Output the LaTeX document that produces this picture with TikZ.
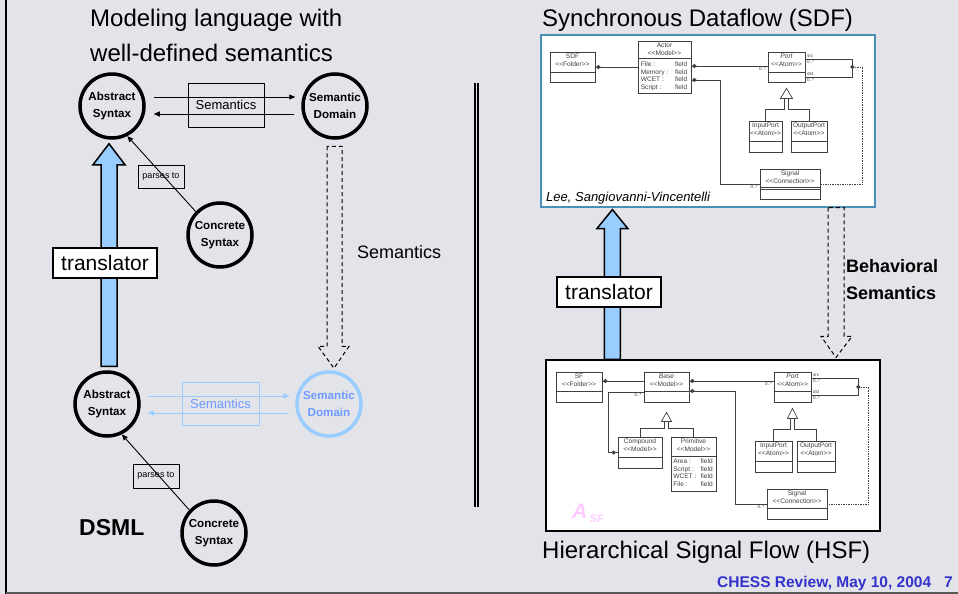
\documentclass[tikz,border=0pt]{standalone}
\usepackage{fontspec}
\setmainfont{Liberation Sans}
\usetikzlibrary{arrows.meta,calc,shapes.geometric}

\definecolor{bg}{RGB}{227,228,234}
\definecolor{lblue}{RGB}{153,204,255}
\definecolor{mblue}{RGB}{110,155,255}
\definecolor{framebl}{RGB}{74,144,180}
\definecolor{umlgray}{RGB}{64,64,64}
\definecolor{footblue}{RGB}{51,51,204}
\definecolor{asfpink}{RGB}{255,204,255}

\newcommand\fs[2]{\fontsize{#1}{#2}\selectfont}
\newcommand\st[1]{<{}<#1>{}>}

% class box: name, x, y, width, height, divider offset, header text
\newcommand\umlclass[7]{%
  \node[uml, minimum width=#4pt, minimum height=#5pt] (#1) at (#2,#3) {};
  \draw[umll] ([yshift=-#6pt]#1.north west) -- ([yshift=-#6pt]#1.north east);
  \node[umlt, anchor=north] (#1-h) at ([yshift=-2pt]#1.north) {#7};
}

\begin{document}
\begin{tikzpicture}[x=1pt,y=-1pt,
  txt/.style={inner sep=0pt},
  circ/.style={circle, draw, line width=3.5pt, minimum size=64pt, inner sep=0pt,
    align=center, font=\fs{11.6}{17}\bfseries},
  lblbox/.style={draw, line width=0.9pt, inner sep=0pt},
  conn/.style={-{Triangle[length=6pt,width=5pt]}, line width=0.9pt},
  bigarrow/.style={fill=lblue, draw=black, line width=1.5pt, line join=miter},
  hollow/.style={draw=black, line width=1pt, dash pattern=on 4pt off 3pt},
  trbox/.style={draw, fill=white, line width=1.2pt, minimum width=104pt,
    minimum height=30pt, inner sep=0pt, font=\fs{21}{24}},
  uml/.style={draw=umlgray, line width=0.8pt, fill=white, inner sep=0pt},
  umlt/.style={inner sep=0pt, text=umlgray, font=\fs{6.6}{7.7}, align=center},
  umll/.style={draw=umlgray, line width=0.7pt},
  dia/.style={diamond, fill=umlgray, inner sep=0pt, minimum size=4.5pt},
  mult/.style={inner sep=0pt, text=umlgray, font=\fs{4.6}{5}}
]
\useasboundingbox (0,0) rectangle (958,594);
\fill[bg] (0,0) rectangle (958,594);
\draw[line width=2pt] (6,0) -- (6,594);
\draw[line width=1.5pt, black!65] (6,592.8) -- (958,592.8);

% ---------- left half: modeling language ----------
\node[txt, anchor=base west, font=\fs{24}{28}] (h1a) at (90,27) {Modeling language with};
\node[txt, anchor=base west, font=\fs{24}{28}] (h1b) at (90,62) {well-defined semantics};

\node[circ] (abs1) at (112,106) {Abstract\\Syntax};
\node[circ] (sem1) at (335,106) {Semantic\\Domain};
\node[circ] (cs1) at (220,235) {Concrete\\Syntax};

\node[lblbox, minimum width=76pt, minimum height=44pt, font=\fs{13}{15}] (sb1) at (226,105) {Semantics};
\draw[conn, shorten <=8pt, shorten >=6pt] ([yshift=9pt]abs1.east) -- ([yshift=9pt]sem1.west);
\draw[conn, shorten <=7pt, shorten >=8pt] ([yshift=-8pt]sem1.west) -- ([yshift=-8pt]abs1.east);

\node[lblbox, minimum width=46pt, minimum height=23pt, font=\fs{9}{10}] (p1) at (161,176.5) {parses to};
\draw[conn] (cs1.136) -- (abs1.-63);

\node[txt, anchor=base west, font=\fs{18}{20}] (sl) at (357,258) {Semantics};

% lower DSML
\node[circ] (abs2) at (107,404) {Abstract\\Syntax};
\node[circ, draw=lblue, text=mblue] (sem2) at (329,404) {Semantic\\Domain};
\node[circ] (cs2) at (214,533) {Concrete\\Syntax};

\node[lblbox, draw=lblue, text=mblue, minimum width=77pt, minimum height=43pt, font=\fs{13}{15}] (sb2) at (220.5,403.5) {Semantics};
\draw[conn, draw=lblue, fill=lblue, shorten <=8pt, shorten >=6pt] ([yshift=8pt]abs2.east) -- ([yshift=8pt]sem2.west);
\draw[conn, draw=lblue, fill=lblue, shorten <=7pt, shorten >=7pt] ([yshift=-9pt]sem2.west) -- ([yshift=-9pt]abs2.east);

\node[lblbox, minimum width=46pt, minimum height=24pt, font=\fs{9}{10}] (p2) at (156,476) {parses to};
\draw[conn] (cs2.137) -- (abs2.-64);

\node[txt, anchor=base west, font=\fs{23}{26}\bfseries] (dsml) at (79,535) {DSML};

% translator arrow
\coordinate (tA1) at ([xshift=-3pt,yshift=-4pt]abs1.south);
\coordinate (tB1) at ([xshift=2pt,yshift=4pt]abs2.north);
\draw[bigarrow] ($(tB1)+(-8,0)$) -- ($(tA1)+(-8,21)$) -- ($(tA1)+(-16,21)$) -- (tA1)
  -- ($(tA1)+(16,21)$) -- ($(tA1)+(8,21)$) -- ($(tB1)+(8,0)$) -- cycle;
\node[trbox] (tr1) at (105,263) {translator};

% semantics (dashed hollow arrow)
\coordinate (dA) at ([xshift=-0.5pt,yshift=-6.5pt]sem1.south);
\coordinate (dB) at ([xshift=5pt,yshift=2pt]sem2.north);
\draw[hollow] ($(dA)+(-7.5,0)$) -- ($(dB)+(-7,-22)$) -- ($(dB)+(-16,-22)$) -- (dB)
  -- ($(dB)+(15,-22)$) -- ($(dB)+(8,-22)$) -- ($(dA)+(7.5,0)$) -- cycle;

% separator
\draw[line width=1.2pt] (475,83) -- (475,507);
\draw[line width=2pt] (478,83) -- (478,507);

% ---------- right half: SDF / HSF ----------
\node[txt, anchor=base west, font=\fs{24}{28}] (h2) at (542,27) {Synchronous Dataflow (SDF)};
\node[txt, anchor=base west, font=\fs{24}{28}] (h3) at (542,558) {Hierarchical Signal Flow (HSF)};

\node[draw=framebl, fill=white, line width=1.2pt, minimum width=334pt, minimum height=172pt, inner sep=0pt] (sdfbox) at (708,121) {};
\node[draw=black, fill=white, line width=1.2pt, minimum width=334pt, minimum height=171pt, inner sep=0pt] (hsfbox) at (713,445.5) {};

\node[txt, anchor=base west, font=\fs{13}{15}\itshape] (lee) at (546,201) {Lee, Sangiovanni-Vincentelli};

% SDF metamodel
\umlclass{sdfF}{572.5}{67}{45}{30}{21}{SDF\\\st{Folder}}
\umlclass{actor}{664.5}{67}{53}{52}{18}{Actor\\\st{Model}}
\umlclass{port1}{786.5}{67}{37}{30}{21}{\itshape Port\\\st{Atom}}
\umlclass{inport1}{765.5}{136.5}{33}{31}{21}{InputPort\\\st{Atom}}
\umlclass{outport1}{809}{136.5}{36}{31}{21}{OutputPort\\\st{Atom}}
\umlclass{signal1}{790}{184}{60}{30}{19}{Signal\\\st{Connection}}
\draw[umll] ([yshift=-20.5pt]signal1.north west) -- ([yshift=-20.5pt]signal1.north east);

\node[umlt, align=left, anchor=north west] (actor-f) at ([xshift=3pt,yshift=-21pt]actor.north west) {File :\\Memory :\\WCET :\\Script :};
\node[umlt, align=right, anchor=north east] (actor-v) at ([xshift=-4pt,yshift=-21pt]actor.north east) {field\\field\\field\\field};

\draw[umll] (sdfF.east) -- (actor.west);
\node[dia] (d1) at ([xshift=3pt]sdfF.east) {};
\draw[umll] ([yshift=1pt]actor.east) -- ([yshift=1pt]port1.west);
\node[dia] (d2) at ([xshift=3pt,yshift=1pt]actor.east) {};
\node[mult, anchor=north east] (m1) at ([xshift=-1.5pt,yshift=-0.5pt]port1.west) {0..*};
\draw[umll] ([yshift=-13pt]actor.east) -- ++(29,0) |- (signal1.west);
\node[dia] (d3) at ([xshift=3pt,yshift=-13pt]actor.east) {};
\node[mult, anchor=north east] (m2) at ([xshift=-2pt,yshift=-1pt]signal1.west) {0..*};

\draw[umll] ([yshift=8pt]port1.east) -- ++(47,0) |- ([yshift=-10pt]port1.east);
\node[dia] (d4) at ([xshift=47pt]port1.east) {};
\draw[umll, densely dotted] (d4) -- ++(10,0) |- (signal1.east);
\node[mult, anchor=south west] (m3) at ([xshift=1.5pt,yshift=9pt]port1.east) {src};
\node[mult, anchor=north west] (m4) at ([xshift=1.5pt,yshift=7pt]port1.east) {0..*};
\node[mult, anchor=south west] (m5) at ([xshift=1.5pt,yshift=-9pt]port1.east) {dst};
\node[mult, anchor=north west] (m6) at ([xshift=1.5pt,yshift=-11pt]port1.east) {0..*};

\coordinate (g1) at ([yshift=-6pt]port1.south);
\draw[umll, fill=white] (g1) -- ++(-6,10) -- ++(12,0) -- cycle;
\draw[umll] ($(g1)+(-2,10)$) -- ++(0,11) -| (inport1.north);
\draw[umll] ($(g1)+(2,10)$) -- ++(0,11) -| (outport1.north);

% HSF metamodel
\umlclass{sfF}{579}{387}{46}{30}{20}{SF\\\st{Folder}}
\umlclass{base}{666.5}{387}{45}{30}{20}{\itshape Base\\\st{Model}}
\umlclass{port2}{792.5}{387}{37}{30}{20}{\itshape Port\\\st{Atom}}
\umlclass{compound}{640}{452.5}{44}{31}{21}{Compound\\\st{Model}}
\umlclass{primitive}{693.5}{464}{45}{54}{20}{Primitive\\\st{Model}}
\umlclass{inport2}{773.5}{456.5}{37}{31}{21}{InputPort\\\st{Atom}}
\umlclass{outport2}{816}{456.5}{38}{31}{21}{OutputPort\\\st{Atom}}
\umlclass{signal2}{797}{504}{60}{30}{20}{Signal\\\st{Connection}}

\node[umlt, align=left, anchor=north west] (prim-f) at ([xshift=2.5pt,yshift=-22pt]primitive.north west) {Area :\\Script :\\WCET :\\File :};
\node[umlt, align=right, anchor=north east] (prim-v) at ([xshift=-3.5pt,yshift=-22pt]primitive.north east) {field\\field\\field\\field};

\draw[umll] ([yshift=6pt]sfF.east) -- ([yshift=6pt]base.west);
\node[dia] (d5) at ([xshift=3pt,yshift=6pt]sfF.east) {};
\draw[umll] ([yshift=6pt]base.east) -- ([yshift=6pt]port2.west);
\node[dia] (d6) at ([xshift=3pt,yshift=6pt]base.east) {};
\node[mult, anchor=north east] (m7) at ([xshift=-1.5pt,yshift=5pt]port2.west) {0..*};
\draw[umll] ([yshift=-4pt]base.east) -- ++(46,0) |- (signal2.west);
\node[dia] (d7) at ([xshift=3pt,yshift=-4pt]base.east) {};
\node[mult, anchor=north east] (m8) at ([xshift=-2pt,yshift=-1pt]signal2.west) {0..*};
\draw[umll] ([yshift=-5pt]base.west) -- ++(-35,0) |- (compound.west);
\node[dia] (d8) at ([xshift=-4pt]compound.west) {};
\node[mult, anchor=north east] (m9) at ([xshift=-2pt,yshift=-6pt]base.west) {0..*};

\draw[umll] ([yshift=9pt]port2.east) -- ++(47,0) |- ([yshift=-8pt]port2.east);
\node[dia] (d9) at ([xshift=47pt]port2.east) {};
\draw[umll, densely dotted] (d9) -- ++(10,0) |- (signal2.east);
\node[mult, anchor=south west] (m10) at ([xshift=1.5pt,yshift=10pt]port2.east) {src};
\node[mult, anchor=north west] (m11) at ([xshift=1.5pt,yshift=8pt]port2.east) {0..*};
\node[mult, anchor=south west] (m12) at ([xshift=1.5pt,yshift=-7pt]port2.east) {dst};
\node[mult, anchor=north west] (m13) at ([xshift=1.5pt,yshift=-9pt]port2.east) {0..*};

\coordinate (g2) at ([yshift=-10pt]base.south);
\draw[umll, fill=white] (g2) -- ++(-5,9) -- ++(10,0) -- cycle;
\draw[umll] ($(g2)+(-2,9)$) -- ++(0,7) -| (compound.north);
\draw[umll] ($(g2)+(2,9)$) -- ++(0,7) -| (primitive.north);
\coordinate (g3) at ([yshift=-6pt]port2.south);
\draw[umll, fill=white] (g3) -- ++(-5,10) -- ++(10,0) -- cycle;
\draw[umll] ($(g3)+(-2,10)$) -- ++(0,11) -| (inport2.north);
\draw[umll] ($(g3)+(2,10)$) -- ++(0,11) -| (outport2.north);

\node[txt, anchor=base west, text=asfpink, font=\fs{21}{22}\bfseries\itshape] (asfA) at (572,518) {A};
\node[txt, anchor=base west, text=asfpink, font=\fs{11}{12}\bfseries\itshape] (asfS) at (589.5,522) {SF};

% translator arrow SDF <- HSF
\coordinate (tA2) at ([xshift=72pt,yshift=-2pt]sdfbox.south west);
\coordinate (tB2) at ([xshift=67pt]hsfbox.north west);
\draw[bigarrow] ($(tB2)+(-8,0)$) -- ($(tA2)+(-8,19)$) -- ($(tA2)+(-15.5,19)$) -- (tA2)
  -- ($(tA2)+(15.5,19)$) -- ($(tA2)+(8,19)$) -- ($(tB2)+(8,0)$) -- cycle;
\node[trbox] (tr2) at (609,292) {translator};

% behavioral semantics
\coordinate (bA) at ([xshift=128pt]sdfbox.south);
\coordinate (bB) at ([xshift=123pt,yshift=2pt]hsfbox.north);
\draw[hollow] ($(bA)+(-8,0)$) -- ($(bB)+(-8,-21)$) -- ($(bB)+(-15,-21)$) -- (bB)
  -- ($(bB)+(16,-21)$) -- ($(bB)+(8,-21)$) -- ($(bA)+(8,0)$) -- cycle;
\node[txt, anchor=base west, font=\fs{18}{20}\bfseries] (bs1) at (846,272) {Behavioral};
\node[txt, anchor=base west, font=\fs{18}{20}\bfseries] (bs2) at (846,299) {Semantics};

% footer
\node[txt, anchor=base west, font=\fs{15.5}{18}\bfseries, text=footblue] (foot) at (717,587) {CHESS Review, May 10, 2004};
\node[txt, anchor=base east, font=\fs{15.5}{18}\bfseries, text=footblue] (pg) at (953,587) {7};
\end{tikzpicture}
\end{document}
